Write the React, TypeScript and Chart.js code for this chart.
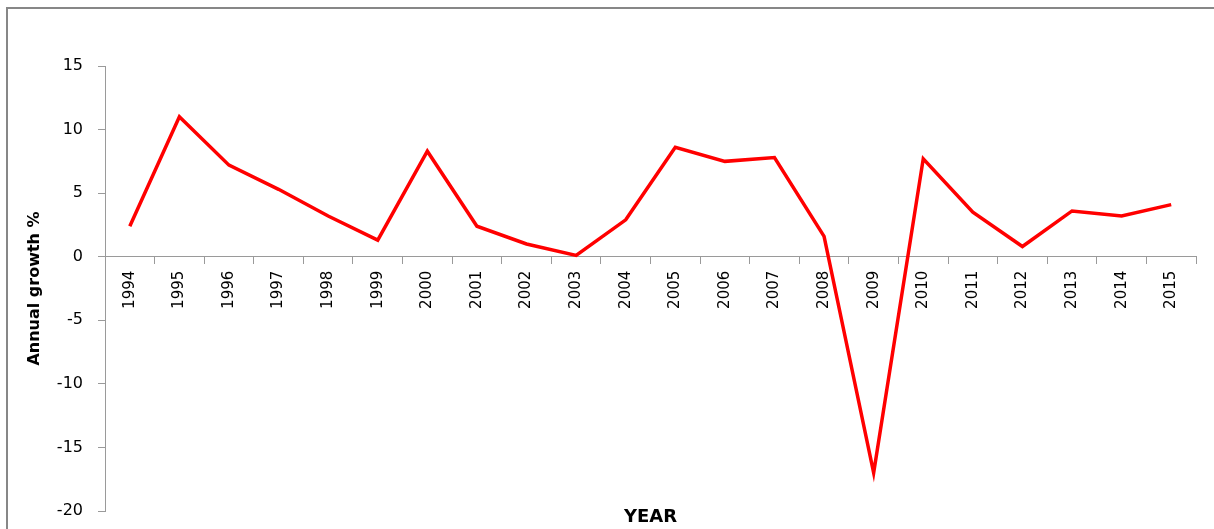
import React, { useEffect, useRef } from "react";
import { Chart, registerables } from "chart.js";

Chart.register(...registerables);

const years = [
  "1994", "1995", "1996", "1997", "1998", "1999", "2000", "2001", "2002", "2003", "2004",
  "2005", "2006", "2007", "2008", "2009", "2010", "2011", "2012", "2013", "2014", "2015",
];
const growth = [
  2.4, 11.0, 7.2, 5.3, 3.2, 1.3, 8.3, 2.4, 1.0, 0.1, 2.9,
  8.6, 7.5, 7.8, 1.6, -17.0, 7.7, 3.5, 0.8, 3.6, 3.2, 4.1,
];
const yTitle = "Annual growth %";
const xTitle = "YEAR";

const W = 1214;
const H = 529;

export default function App() {
  const ref = useRef<HTMLCanvasElement | null>(null);

  useEffect(() => {
    if (!ref.current) return;
    const framePlugin = {
      id: "frame",
      beforeDraw(chart: any) {
        const ctx = chart.ctx;
        ctx.save();
        ctx.fillStyle = "#ffffff";
        ctx.fillRect(0, 0, chart.width, chart.height);
        ctx.strokeStyle = "#878787";
        ctx.lineWidth = 2;
        ctx.beginPath();
        ctx.moveTo(7, chart.height + 5);
        ctx.lineTo(7, 8);
        ctx.lineTo(chart.width + 5, 8);
        ctx.stroke();
        ctx.restore();
      },
      afterDraw(chart: any) {
        const ctx = chart.ctx;
        const a = chart.chartArea;
        ctx.save();
        ctx.fillStyle = "#000000";
        ctx.font = "bold 18px 'DejaVu Sans'";
        ctx.textAlign = "center";
        ctx.textBaseline = "middle";
        ctx.fillText(xTitle, (a.left + a.right) / 2, 517);
        ctx.restore();
      },
    };

    const chart = new Chart(ref.current, {
      type: "line",
      data: {
        labels: years,
        datasets: [
          {
            data: growth,
            borderColor: "#ff0000",
            borderWidth: 3.5,
            pointRadius: 0,
            tension: 0,
            fill: false,
          },
        ],
      },
      options: {
        animation: false,
        responsive: false,
        devicePixelRatio: 1,
        layout: { padding: { top: 66, right: 18, bottom: 18, left: 0 } },
        plugins: {
          legend: { display: false },
          tooltip: { enabled: false },
        },
        scales: {
          x: {
            type: "category",
            position: { y: 0 } as any,
            offset: true,
            grid: {
              offset: true,
              drawOnChartArea: false,
              tickLength: 7,
              color: "#9a9a9a",
            },
            border: { color: "#9a9a9a" },
            ticks: {
              maxRotation: 90,
              minRotation: 90,
              padding: 7,
              color: "#000000",
              font: { family: "'DejaVu Sans'", size: 15 },
            },
          },
          y: {
            min: -20,
            max: 15,
            afterFit(scale: any) {
              scale.width = 105;
              scale.paddingTop = 0;
              scale.paddingBottom = 0;
            },
            grid: {
              drawOnChartArea: false,
              tickLength: 7,
              color: "#9a9a9a",
            },
            border: { color: "#9a9a9a" },
            ticks: {
              stepSize: 5,
              padding: 15,
              color: "#000000",
              font: { family: "'DejaVu Sans'", size: 16 },
            },
            title: {
              display: true,
              text: yTitle,
              color: "#000000",
              padding: { top: 25, bottom: 0 },
              font: { family: "'DejaVu Sans'", size: 16, weight: "bold" },
            },
          },
        },
      },
      plugins: [framePlugin],
    });
    return () => chart.destroy();
  }, []);

  return (
    <div style={{ position: "absolute", left: 0, top: 0, width: W, height: H, overflow: "hidden" }}>
      <canvas ref={ref} width={W} height={H} style={{ display: "block", width: W, height: H }} />
    </div>
  );
}
